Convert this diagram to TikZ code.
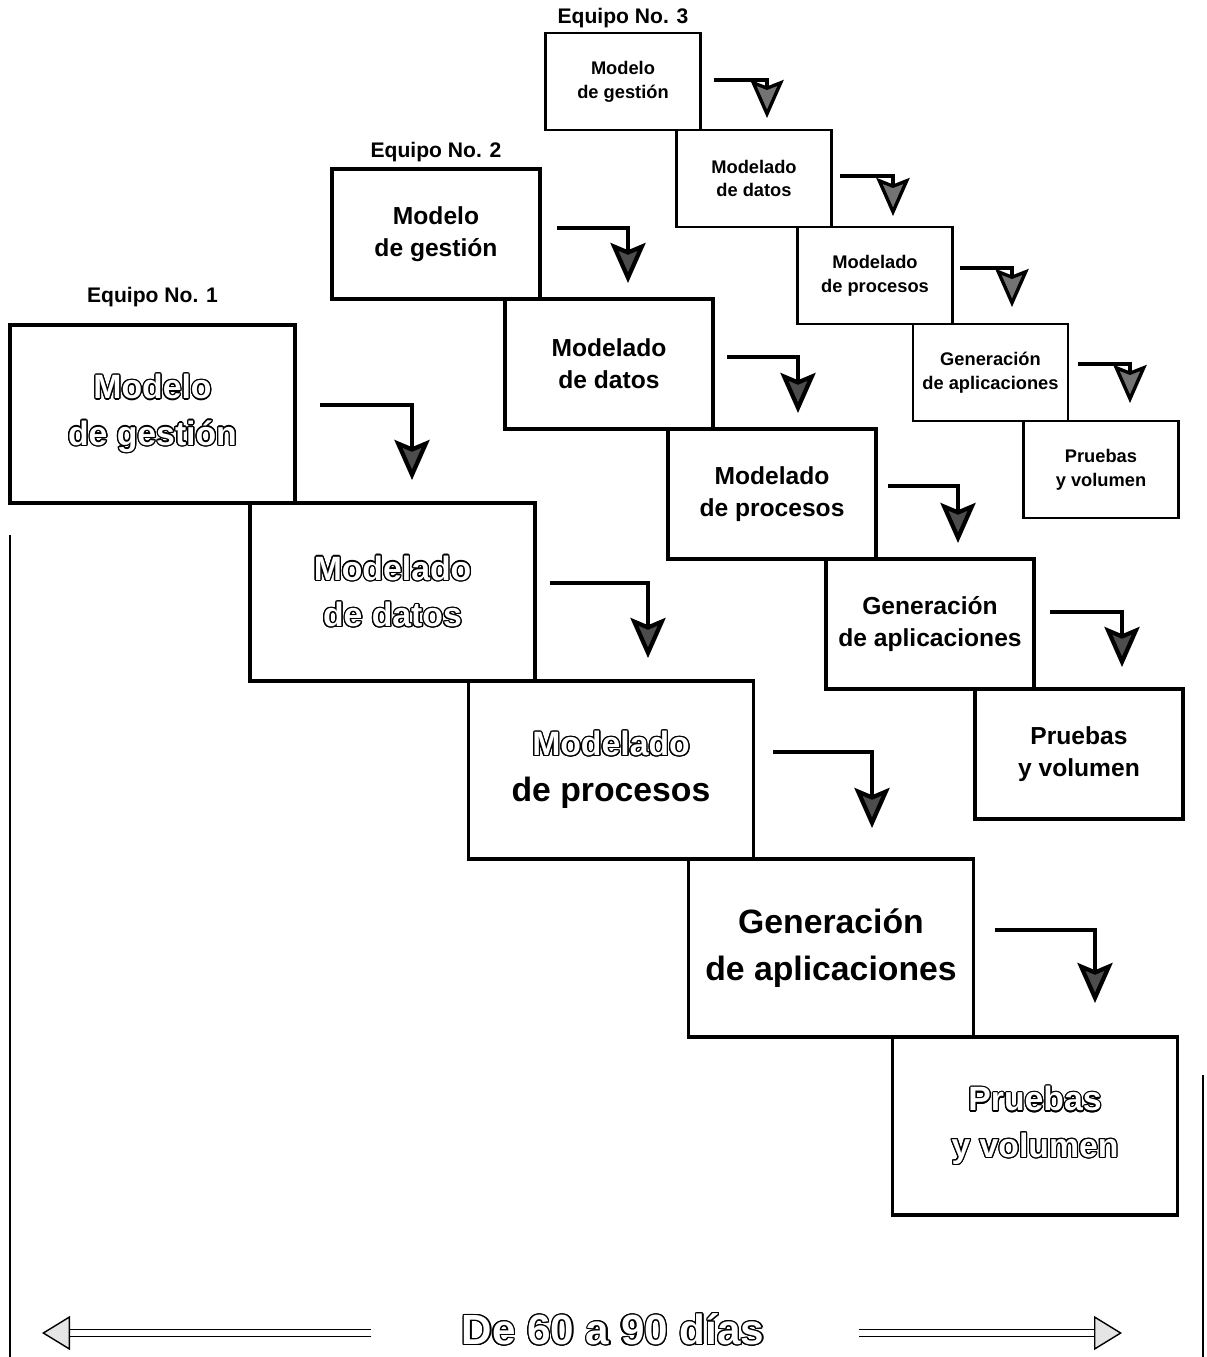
\documentclass[tikz,border=0pt]{standalone}
\usepackage{fontspec}
\setmainfont{Liberation Sans}
\usepackage{contour}
\usetikzlibrary{arrows.meta,positioning}
\contourlength{0.9pt}
\newcommand{\hueco}[1]{{\color{white}\contour{black}{#1}}}

\tikzset{
  etapa/.style={draw, fill=white, align=center, inner sep=0pt},
  uno/.style={etapa, line width=2.5pt, minimum width=7.125cm, minimum height=4.45cm,
              font=\bfseries\fontsize{24}{33}\selectfont},
  dos/.style={etapa, line width=2.2pt, minimum width=5.2cm, minimum height=3.25cm,
              font=\bfseries\fontsize{17.5}{23}\selectfont},
  tres/.style={etapa, line width=2pt, minimum width=3.875cm, minimum height=2.425cm,
               font=\bfseries\fontsize{13}{17}\selectfont},
  equipo/.style={inner sep=0pt, font=\bfseries\fontsize{15}{18}\selectfont},
  flecha/.style={line width=3pt,
                 -{Stealth[length=1cm, width=0.875cm, inset=0.18cm, fill=black!70]}},
  flechita/.style={line width=2.4pt,
                   -{Stealth[length=0.95cm, width=0.83cm, inset=0.16cm, fill=black!55]}},
  ancha/.style={double, double distance=4pt, line width=1pt,
                -{Triangle[length=0.7cm, width=0.85cm, line width=1pt, fill=gray!20]}}
}

\begin{document}
\begin{tikzpicture}[x=0.025cm, y=-0.025cm]
  \useasboundingbox (0,0) rectangle (1206,1357);

  % equipo 1
  \node[uno] (g1) at (152.5,414) {\hueco{Modelo}\\\hueco{de gestión}};
  \node[uno] (d1) at (392.5,592) {\hueco{Modelado}\\\hueco{de datos}};
  \node[uno] (p1) at (611,770) {\hueco{Modelado}\\de procesos};
  \node[uno] (a1) at (831,948) {Generación\\de aplicaciones};
  \node[uno] (v1) at (1035,1126) {\hueco{Pruebas}\\\hueco{y volumen}};
  \node[equipo, above=0.4cm of g1] (e1) {Equipo No. 1};

  % equipo 2
  \node[dos] (g2) at (436,234) {Modelo\\de gestión};
  \node[dos] (d2) at (609,364) {Modelado\\de datos};
  \node[dos] (p2) at (772,494) {Modelado\\de procesos};
  \node[dos] (a2) at (930,624) {Generación\\de aplicaciones};
  \node[dos] (v2) at (1079,754) {Pruebas\\y volumen};
  \node[equipo, above=0.13cm of g2] (e2) {Equipo No. 2};

  % equipo 3
  \node[tres] (g3) at (623,81.5) {Modelo\\de gestión};
  \node[tres] (d3) at (754,178.5) {Modelado\\de datos};
  \node[tres] (p3) at (875,275.5) {Modelado\\de procesos};
  \node[tres] (a3) at (990.5,372.5) {Generación\\de aplicaciones};
  \node[tres] (v3) at (1101,469.5) {Pruebas\\y volumen};
  \node[equipo, above=0.08cm of g3] (e3) {Equipo No. 3};

  % flechas entre etapas
  \coordinate (g1s) at (320,405);  \coordinate (g1t) at (412,480);
  \coordinate (d1s) at (550,583);  \coordinate (d1t) at (648,658);
  \coordinate (p1s) at (773,752);  \coordinate (p1t) at (872,828);
  \coordinate (a1s) at (995,930);  \coordinate (a1t) at (1095,1003);
  \draw[flecha] (g1s) -| (g1t);
  \draw[flecha] (d1s) -| (d1t);
  \draw[flecha] (p1s) -| (p1t);
  \draw[flecha] (a1s) -| (a1t);

  \coordinate (g2s) at (557,228);  \coordinate (g2t) at (628,283);
  \coordinate (d2s) at (727,357);  \coordinate (d2t) at (798,413);
  \coordinate (p2s) at (888,486);  \coordinate (p2t) at (958,543);
  \coordinate (a2s) at (1050,612); \coordinate (a2t) at (1122,667);
  \draw[flecha] (g2s) -| (g2t);
  \draw[flecha] (d2s) -| (d2t);
  \draw[flecha] (p2s) -| (p2t);
  \draw[flecha] (a2s) -| (a2t);

  \coordinate (g3s) at (714,80);   \coordinate (g3t) at (767,118);
  \coordinate (d3s) at (840,176);  \coordinate (d3t) at (893,216);
  \coordinate (p3s) at (960,268);  \coordinate (p3t) at (1012,307);
  \coordinate (a3s) at (1078,364); \coordinate (a3t) at (1130,403);
  \draw[flechita] (g3s) -| (g3t);
  \draw[flechita] (d3s) -| (d3t);
  \draw[flechita] (p3s) -| (p3t);
  \draw[flechita] (a3s) -| (a3t);

  % duracion
  \node[inner sep=0pt, font=\bfseries\fontsize{30}{36}\selectfont] (rango) at (613,1330)
    {\hueco{De 60 a 90 días}};
  \coordinate (izq) at (42,1333);
  \coordinate (der) at (1122,1333);
  \draw[ancha] ([xshift=-2.25cm]rango.west |- izq) -- (izq);
  \draw[ancha] ([xshift=2.35cm]rango.east |- der) -- (der);

  \coordinate (limizq) at (10,535);
  \coordinate (limder) at (1203,1075);
  \draw[line width=1.6pt] (limizq) -- (limizq |- 0,1357);
  \draw[line width=1.6pt] (limder) -- (limder |- 0,1357);
\end{tikzpicture}
\end{document}
